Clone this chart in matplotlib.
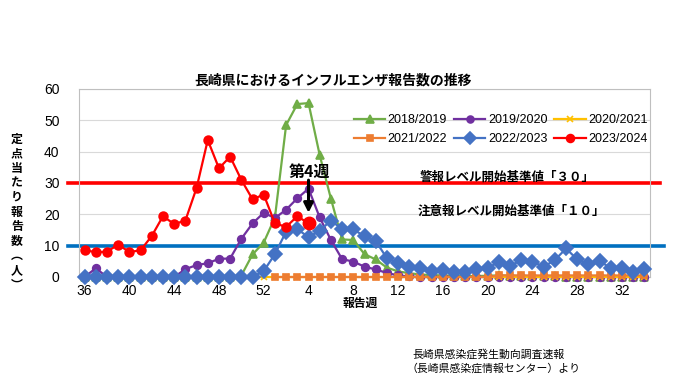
import numpy as np
import matplotlib
matplotlib.use("Agg")
import matplotlib.pyplot as plt

plt.rcParams['font.family'] = ['Noto Sans CJK JP', 'DejaVu Sans']
NUM_FONT = ['Liberation Sans Narrow', 'Liberation Sans', 'Noto Sans CJK JP']

weeks = list(range(36, 53)) + list(range(1, 35))
tick_weeks = [36, 40, 44, 48, 52, 4, 8, 12, 16, 20, 24, 28, 32]

nan = np.nan
s2018 = [0, 0, 0, 0, 0, 0, 0, 0, 0, 0, 0, 0, 0, 0, 0.5, 7.2, 11.0,
         19.0, 48.5, 55.2, 55.5, 38.9, 25.0, 12.0, 11.8, 7.3, 5.6,
         3.0, 1.8, 1.2, 0.8, 0.6, 0.5, 0.4, 0.3, 0.3, 0.4,
         0.5, 0.4, 0.3, 0.3, 0.2, 0.2, 0.1, 0.1, 0.1, 0.1,
         0.1, 0.1, 0.1, 0.1]
s2019 = [0, 2.8, 0, 0, 0, 0, 0, 0, 0, 2.5, 3.8, 4.4, 5.8, 5.9, 12.2, 17.1, 20.5,
         18.8, 21.5, 25.1, 28.2, 19.0, 11.8, 5.7, 4.9, 3.3, 2.4,
         1.3, 0.5, 0.2, 0, 0, 0, 0, 0, 0, 0,
         0, 0, 0, 0, 0, 0, 0, 0, 0, 0,
         0, 0, 0, 0]
s2020 = [0] * 51
s2021 = [nan] * 17 + [0] * 20 + [0.5] * 14
s2022 = [0] * 16 + [1.9,
         7.3, 14.5, 15.3, 12.7, 14.8, 18.0, 15.3, 15.2, 13.0, 11.5,
         6.0, 4.5, 3.1, 2.8, 2.0, 2.2, 1.7, 1.7, 2.4, 2.8,
         4.9, 3.5, 5.4, 4.9, 3.3, 5.4, 9.1, 5.6, 4.1, 5.1,
         2.8, 2.8, 1.7, 2.4]
s2023 = [8.6, 7.9, 8.1, 10.3, 8.0, 8.5, 13.1, 19.4, 16.9, 18.0, 28.4, 43.7,
         34.7, 38.4, 31.0, 24.8, 26.3, 17.1, 16.0, 19.4, 17.1] + [nan] * 30

alarm_level = 30
caution_level = 10
current_week = 4

fig = plt.figure(figsize=(6.8, 3.82), dpi=100)
ax = fig.add_axes([79/680, 1-277/382, 571/680, 188/382])

x = np.arange(len(weeks))

series = [
    ("2018/2019", s2018, "#70ad47", "^", 6.0),
    ("2019/2020", s2019, "#7030a0", "o", 5.5),
    ("2020/2021", s2020, "#ffc000", "x", 4.5),
    ("2021/2022", s2021, "#ed7d31", "s", 4.5),
    ("2022/2023", s2022, "#4472c4", "D", 7.0),
    ("2023/2024", s2023, "#ff0000", "o", 6.3),
]
handles = []
for i, (lab, vals, col, mk, ms) in enumerate(series):
    ln, = ax.plot(x, vals, color=col, marker=mk, ms=ms, lw=1.6,
                  mec=col, mfc=col, mew=1.2, clip_on=False, zorder=3 + i,
                  label=lab)
    handles.append(ln)

# emphasised current-week point
cw = weeks.index(current_week)
ax.plot(x[cw], s2023[cw], 'o', color="#ff0000", ms=9, clip_on=False, zorder=10)

# threshold lines (extend slightly past the plot frame)
ax.axhline(alarm_level, xmin=-0.019, xmax=1.017, color="#ff0000", lw=2.6,
           clip_on=False, zorder=2)
ax.axhline(caution_level, xmin=-0.019, xmax=1.025, color="#0070c0", lw=2.6,
           clip_on=False, zorder=2)

ax.set_xlim(-0.5, len(weeks) - 0.5)
ax.set_ylim(0, 60)
ax.set_yticks(range(0, 61, 10))
ax.set_yticklabels([str(v) for v in range(0, 61, 10)], family=NUM_FONT, fontsize=10)
ax.set_xticks([weeks.index(w) for w in tick_weeks])
ax.set_xticklabels([str(w) for w in tick_weeks], family=NUM_FONT, fontsize=10)
ax.tick_params(axis='y', length=0, pad=14)
ax.tick_params(axis='x', length=0, pad=5)
ax.grid(axis='y', color="#d9d9d9", lw=0.8, zorder=0)
ax.set_axisbelow(True)
for s in ax.spines.values():
    s.set_color("#bfbfbf")
    s.set_linewidth(0.8)

# annotations
ax.text(cw + 0.1, 33.4, "第4週", ha='center', va='center', fontsize=11.5,
        fontweight='bold', zorder=12)
ax.annotate('', xy=(cw, 19.6), xytext=(cw, 31.8),
            arrowprops=dict(arrowstyle='-|>', color='black', lw=2.2,
                            mutation_scale=14), zorder=12)

fig.text(420/680, 1-177/382, "警報レベル開始基準値「３０」", ha='left', va='center',
         fontsize=9, fontweight='bold')
fig.text(418/680, 1-211/382, "注意報レベル開始基準値「１０」", ha='left', va='center',
         fontsize=9, fontweight='bold')

fig.text(333/680, 1-81/382, "長崎県におけるインフルエンザ報告数の推移", ha='center',
         va='center', fontsize=10, fontweight='bold')

ylab = "定点当たり報告数︵人︶"
fig.text(17/680, 1-212/382, "\n".join(ylab), ha='center', va='center',
         fontsize=8.6, fontweight='bold', linespacing=1.16)

fig.text(360/680, 1-303/382, "報告週", ha='center', va='center', fontsize=8.5,
         fontweight='bold')

fig.text(412/680, 1-354/382, "長崎県感染症発生動向調査速報", ha='left', va='center',
         fontsize=7.8)
fig.text(406/680, 1-368/382, "（長崎県感染症情報センター）より", ha='left',
         va='center', fontsize=7.8)

# legend filled row by row (matplotlib fills column-wise)
order = [0, 3, 1, 4, 2, 5]
leg = ax.legend(handles=[handles[k] for k in order], ncol=3, loc='upper left',
                bbox_to_anchor=((349-79)/571, (277-109)/188), frameon=False,
                prop={'family': NUM_FONT, 'size': 9}, handlelength=2.5,
                columnspacing=0.55, handletextpad=0.2, labelspacing=0.6,
                borderaxespad=0, markerscale=0.9)

fig.savefig("out.png", dpi=100)
